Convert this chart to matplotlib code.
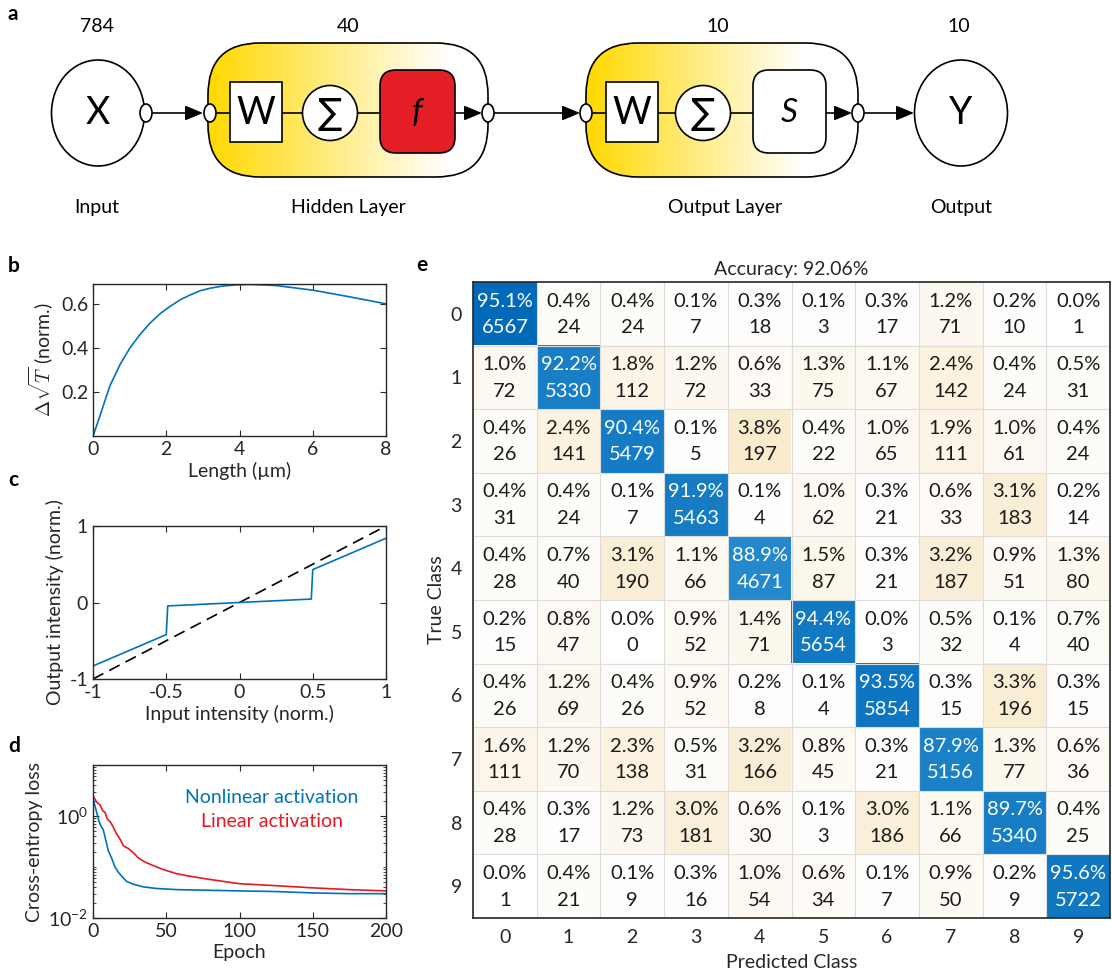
import numpy as np
import matplotlib
matplotlib.use('Agg')
from matplotlib import pyplot as plt
from matplotlib.patches import Ellipse, Rectangle, FancyBboxPatch
from matplotlib.ticker import LogLocator, NullFormatter

plt.rcParams['font.family'] = ['Lato', 'DejaVu Sans']
plt.rcParams['mathtext.fontset'] = 'custom'
plt.rcParams['mathtext.rm'] = 'Lato'
plt.rcParams['mathtext.it'] = 'Lato:italic'
plt.rcParams['axes.unicode_minus'] = False
DARK = '#262626'
BLUE = '#0072BD'
RED = '#E41A22'

# ---- data ----
layer_sizes = ['784', '40', '10', '10']
layer_names = ['Input', 'Hidden Layer', 'Output Layer', 'Output']

length_um = [0, 0.1, 0.19, 0.46, 0.74, 1.01, 1.28, 1.56, 1.83, 2.1, 2.38, 2.65,
             2.92, 3.2, 3.55, 3.93, 4.3, 5, 6, 7, 8]
delta_sqrt_t = [0, 0.047, 0.092, 0.227, 0.325, 0.40, 0.46, 0.513, 0.555, 0.588,
                0.618, 0.64, 0.659, 0.671, 0.681, 0.686, 0.688, 0.683, 0.662,
                0.632, 0.600]

act_in = [-1, -0.5, -0.49, 0.49, 0.5, 1]
act_out = [-0.83, -0.42, -0.045, 0.045, 0.43, 0.84]
ident = [-1, 1]

ep_nl = [0, 2.5, 4.3, 5.9, 7, 8.9, 10.4, 12.7, 15, 17.3, 19.6, 23, 27.5, 34, 43,
         57, 78, 100, 125, 150, 175, 200]
loss_nl = [2.2, 1.18, 0.75, 0.6, 0.54, 0.32, 0.21, 0.15, 0.10, 0.079, 0.066,
           0.052, 0.046, 0.041, 0.038, 0.036, 0.035, 0.034, 0.033, 0.031,
           0.030, 0.030]
ep_lin = [0, 2.5, 4.8, 6.6, 8.2, 9.8, 12.1, 13.9, 16.2, 18.5, 20.8, 24.2, 27.6,
          31, 35.5, 41, 48, 57, 66, 78, 100, 125, 150, 175, 200]
loss_lin = [2.5, 1.87, 1.65, 1.27, 1.18, 0.87, 0.75, 0.6, 0.44, 0.35, 0.26,
            0.23, 0.19, 0.15, 0.125, 0.107, 0.089, 0.074, 0.066, 0.058, 0.047,
            0.043, 0.039, 0.036, 0.034]

classes = [str(i) for i in range(10)]
cm_counts = np.array([
    [6567, 24, 24, 7, 18, 3, 17, 71, 10, 1],
    [72, 5330, 112, 72, 33, 75, 67, 142, 24, 31],
    [26, 141, 5479, 5, 197, 22, 65, 111, 61, 24],
    [31, 24, 7, 5463, 4, 62, 21, 33, 183, 14],
    [28, 40, 190, 66, 4671, 87, 21, 187, 51, 80],
    [15, 47, 0, 52, 71, 5654, 3, 32, 4, 40],
    [26, 69, 26, 52, 8, 4, 5854, 15, 196, 15],
    [111, 70, 138, 31, 166, 45, 21, 5156, 77, 36],
    [28, 17, 73, 181, 30, 3, 186, 66, 5340, 25],
    [1, 21, 9, 16, 54, 34, 7, 50, 9, 5722]])
cm_pct = np.array([
    [95.1, 0.4, 0.4, 0.1, 0.3, 0.1, 0.3, 1.2, 0.2, 0.0],
    [1.0, 92.2, 1.8, 1.2, 0.6, 1.3, 1.1, 2.4, 0.4, 0.5],
    [0.4, 2.4, 90.4, 0.1, 3.8, 0.4, 1.0, 1.9, 1.0, 0.4],
    [0.4, 0.4, 0.1, 91.9, 0.1, 1.0, 0.3, 0.6, 3.1, 0.2],
    [0.4, 0.7, 3.1, 1.1, 88.9, 1.5, 0.3, 3.2, 0.9, 1.3],
    [0.2, 0.8, 0.0, 0.9, 1.4, 94.4, 0.0, 0.5, 0.1, 0.7],
    [0.4, 1.2, 0.4, 0.9, 0.2, 0.1, 93.5, 0.3, 3.3, 0.3],
    [1.6, 1.2, 2.3, 0.5, 3.2, 0.8, 0.3, 87.9, 1.3, 0.6],
    [0.4, 0.3, 1.2, 3.0, 0.6, 0.1, 3.0, 1.1, 89.7, 0.4],
    [0.0, 0.4, 0.1, 0.3, 1.0, 0.6, 0.1, 0.9, 0.2, 95.6]])
accuracy = 92.06

fig = plt.figure(figsize=(11.12, 9.77), dpi=100)
W, H = 1112, 977


def panel_label(x, y, s):
    fig.text(x / W, 1 - y / H, s, fontsize=15, fontweight='bold', va='center', ha='left')


# ---- a: network diagram (pixel-like coordinates) ----
axa = fig.add_axes([0, 1 - 235 / H, 1, 235 / H])
axa.axis('off')
cy = 113


def grad_box(x0, x1, fade):
    patch = FancyBboxPatch((x0, 43), x1 - x0, 134, boxstyle='round,pad=0,rounding_size=52',
                           fc='none', ec='k', lw=1.2, zorder=3)
    axa.add_patch(patch)
    t = np.clip(np.linspace(0, 1, 300) / fade, 0, 1)
    gold = np.array([1.0, 0.85, 0.0])
    rgb = gold[None, :] * (1 - t[:, None]) + t[:, None]
    img = axa.imshow(rgb[None, :, :], extent=(x0, x1, 177, 43), aspect='auto', zorder=1)
    img.set_clip_path(patch)


def port(x):
    axa.add_patch(Ellipse((x, cy), 12, 18, fc='white', ec='k', lw=1.2, zorder=6))


def link(x0, x1, head=False):
    if head:
        axa.annotate('', xy=(x1, cy), xytext=(x0, cy),
                     arrowprops=dict(arrowstyle='-|>,head_length=0.6,head_width=0.25',
                                     color='k', lw=1.2, mutation_scale=18,
                                     shrinkA=0, shrinkB=0), zorder=4)
    else:
        axa.plot([x0, x1], [cy, cy], color='k', lw=1.2, zorder=4)


grad_box(208, 488, 0.86)
grad_box(586, 858, 0.80)

axa.add_patch(Ellipse((98, cy), 93, 106, fc='white', ec='k', lw=1.2, zorder=5))
axa.text(98, cy, 'X', fontsize=27, ha='center', va='center', zorder=7)
axa.add_patch(Ellipse((961, cy), 93, 106, fc='white', ec='k', lw=1.2, zorder=5))
axa.text(961, cy, 'Y', fontsize=27, ha='center', va='center', zorder=7)

for wx in [230, 606]:
    axa.add_patch(Rectangle((wx, 82), 52, 60, fc='white', ec='k', lw=1.2, zorder=5))
    axa.text(wx + 26, cy, 'W', fontsize=27, ha='center', va='center', zorder=7)
for sx in [330, 703]:
    axa.add_patch(Ellipse((sx, cy), 55, 55, fc='white', ec='k', lw=1.2, zorder=5))
    axa.text(sx, cy + 1, '∑', fontsize=26, ha='center', va='center', zorder=7,
             family=['DejaVu Sans'])
axa.add_patch(FancyBboxPatch((380, 70), 75, 83, boxstyle='round,pad=0,rounding_size=16',
                             fc='#E31E24', ec='k', lw=1.2, zorder=5))
axa.text(417, cy, 'f', fontsize=24, fontstyle='italic', ha='center', va='center', zorder=7)
axa.add_patch(FancyBboxPatch((753, 70), 73, 83, boxstyle='round,pad=0,rounding_size=16',
                             fc='white', ec='k', lw=1.2, zorder=5))
axa.text(789, cy, 'S', fontsize=24, fontstyle='italic', ha='center', va='center', zorder=7)

link(146, 203, True)
link(210, 230)
link(282, 302)
link(358, 380)
link(455, 482, True)
link(488, 580, True)
link(586, 606)
link(658, 676)
link(730, 753)
link(826, 852, True)
link(858, 914, True)
for px in [146, 210, 488, 586, 858]:
    port(px)

for x, s in zip([97, 348, 718, 959], layer_sizes):
    axa.text(x, 27, s, fontsize=14, ha='center', va='center')
for x, s in zip([97, 348, 725, 961], layer_names):
    axa.text(x, 208, s, fontsize=14, ha='center', va='center')
axa.set_xlim(0, W)
axa.set_ylim(235, 0)


def style(ax):
    for sp in ax.spines.values():
        sp.set_color(DARK)
        sp.set_linewidth(1.0)
    ax.tick_params(direction='in', top=True, right=True, length=4, width=0.8,
                   color=DARK, labelcolor=DARK, labelsize=14)
    ax.tick_params(which='minor', direction='in', top=True, right=True, length=2,
                   width=0.6, color=DARK)


# ---- b ----
axb = fig.add_axes([93 / W, 1 - 436 / H, 293 / W, 152 / H])
axb.plot(length_um, delta_sqrt_t, color=BLUE, lw=1.2)
axb.set_xlim(0, 8)
axb.set_ylim(0, 0.69)
axb.set_xticks([0, 2, 4, 6, 8])
axb.set_yticks([0.2, 0.4, 0.6])
axb.set_xlabel('Length (µm)', fontsize=14, color=DARK, labelpad=3)
axb.set_ylabel(r'$\Delta\sqrt{T}$ (norm.)', fontsize=14, color=DARK, math_fontfamily='cm')
style(axb)

# ---- c ----
axc = fig.add_axes([93 / W, 1 - 679 / H, 293 / W, 153 / H])
axc.plot(ident, ident, color='k', lw=1.2, dashes=(7, 4))
axc.plot(act_in, act_out, color=BLUE, lw=1.2)
axc.set_xlim(-1, 1)
axc.set_ylim(-1, 1)
axc.set_xticks([-1, -0.5, 0, 0.5, 1])
axc.set_xticklabels(['-1', '-0.5', '0', '0.5', '1'])
axc.set_yticks([-1, 0, 1])
axc.set_xlabel('Input intensity (norm.)', fontsize=14, color=DARK, labelpad=3)
axc.set_ylabel('Output intensity (norm.)', fontsize=14, color=DARK)
style(axc)

# ---- d ----
axd = fig.add_axes([93 / W, 1 - 918 / H, 293 / W, 153 / H])
axd.plot(ep_nl, loss_nl, color=BLUE, lw=1.2)
axd.plot(ep_lin, loss_lin, color=RED, lw=1.2)
axd.set_yscale('log')
axd.set_xlim(0, 200)
axd.set_ylim(1e-2, 10)
axd.set_xticks([0, 50, 100, 150, 200])
axd.set_yticks([1e-2, 1e0])
axd.set_yticklabels([r'$10^{-2}$', r'$10^{0}$'])
axd.yaxis.set_minor_locator(LogLocator(base=10, subs=np.arange(1, 10), numticks=20))
axd.yaxis.set_minor_formatter(NullFormatter())
axd.set_xlabel('Epoch', fontsize=14, color=DARK, labelpad=3)
axd.set_ylabel('Cross-entropy loss', fontsize=14, color=DARK)
axd.text(0.61, 0.79, 'Nonlinear activation', color=BLUE, fontsize=14,
         ha='center', va='center', transform=axd.transAxes)
axd.text(0.61, 0.63, 'Linear activation', color=RED, fontsize=14,
         ha='center', va='center', transform=axd.transAxes)
style(axd)

# ---- e: confusion matrix ----
axe = fig.add_axes([473 / W, 1 - 918 / H, 637 / W, 636 / H])
off_max = np.array([249, 235, 206]) / 255
diag_light = np.array([38, 138, 206]) / 255
diag_dark = np.array([0, 106, 184]) / 255
rgb = np.ones((10, 10, 3))
for i in range(10):
    for j in range(10):
        if i == j:
            t = np.clip((cm_counts[i, j] - 4600) / 2000, 0, 1)
            rgb[i, j] = diag_light * (1 - t) + diag_dark * t
        else:
            t = cm_pct[i, j] / 3.8
            rgb[i, j] = 1 - (1 - off_max) * t
axe.imshow(rgb, extent=(-0.5, 9.5, 9.5, -0.5), aspect='auto', interpolation='nearest')
for k in range(1, 10):
    axe.axhline(k - 0.5, color='#dcdcdc', lw=0.8)
    axe.axvline(k - 0.5, color='#dcdcdc', lw=0.8)
for i in range(10):
    for j in range(10):
        c = 'white' if i == j else '#1a1a1a'
        axe.text(j, i - 0.2, '%.1f%%' % cm_pct[i, j], fontsize=14.5, color=c,
                 ha='center', va='center')
        axe.text(j, i + 0.22, '%d' % cm_counts[i, j], fontsize=14.5, color=c,
                 ha='center', va='center')
axe.set_xlim(-0.5, 9.5)
axe.set_ylim(9.5, -0.5)
axe.set_xticks(range(10))
axe.set_yticks(range(10))
axe.set_xticklabels(classes)
axe.set_yticklabels(classes)
axe.tick_params(length=0, labelsize=14, labelcolor=DARK, pad=8)
for sp in axe.spines.values():
    sp.set_color(DARK)
    sp.set_linewidth(1.2)
axe.set_xlabel('Predicted Class', fontsize=14, color=DARK, labelpad=6)
axe.set_ylabel('True Class', fontsize=14, color=DARK, labelpad=4)
axe.set_title('Accuracy: %.2f%%' % accuracy, fontsize=14, color=DARK, pad=5)

panel_label(8, 14, 'a')
panel_label(8, 266, 'b')
panel_label(8, 480, 'c')
panel_label(8, 746, 'd')
panel_label(416, 265, 'e')

fig.savefig('out.png', dpi=100)
